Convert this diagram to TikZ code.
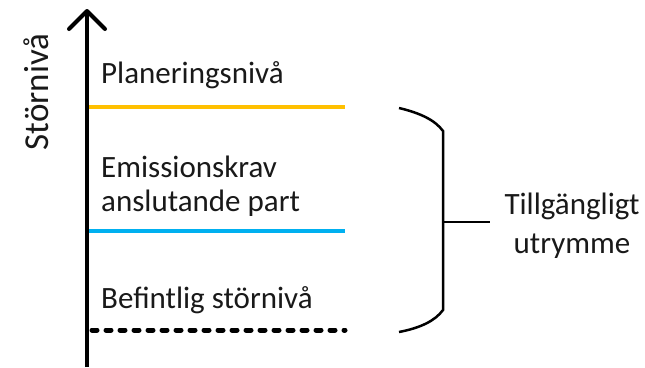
\documentclass[tikz,border=0pt]{standalone}
\usepackage{fontspec}
\setmainfont{Carlito}
\begin{document}
\begin{tikzpicture}[x=1pt,y=-1pt,
  lbl/.style={font=\fontsize{31}{39}\selectfont, text=black!90, inner sep=0pt},
  level/.style={line width=4pt}]
\useasboundingbox (0,0) rectangle (645,367);
% vertical axis with open arrow head
\coordinate (axb) at (87,367);
\coordinate (axt) at (87,11);
\draw[line width=4.5pt] (axb) -- (axt);
\draw[line width=4pt, line cap=round, line join=round] (69,29) -- (axt) -- (105,29);
\node[lbl, font=\fontsize{35}{40}\selectfont, rotate=90, anchor=base] (ylab) at (48,92) {Störnivå};
% levels
\coordinate (o1) at (89,107); \coordinate (o2) at (345,107);
\coordinate (b1) at (89,231); \coordinate (b2) at (345,231);
\coordinate (d1) at (92,330); \coordinate (d2) at (345,330);
\draw[level, color={rgb,255:red,255;green,192;blue,0}] (o1) -- (o2);
\draw[level, color={rgb,255:red,0;green,176;blue,240}] (b1) -- (b2);
\draw[line width=5pt, line cap=round, dash pattern=on 5pt off 9pt] (d1) -- (d2);
\node[lbl, anchor=base west] (plan) at (101,83) {Planeringsnivå};
\node[lbl, anchor=base west] (emis) at (101,177) {Emissionskrav};
\node[lbl, anchor=base west] (ansl) at (101,211) {anslutande part};
\node[lbl, anchor=base west] (bef) at (101,308) {Befintlig störnivå};
% brace
\coordinate (bt) at (399,108);
\coordinate (bb) at (399,332);
\coordinate (tk) at (490,222);
\draw[line width=2.5pt] (bt) .. controls (420,113) and (435,120) .. (443,131)
  -- (443,310) .. controls (435,321) and (420,328) .. (bb);
\draw[line width=2.5pt] (443,222) -- (tk);
\node[lbl, anchor=base] (avail1) at (572,214) {Tillgängligt};
\node[lbl, anchor=base] (avail2) at (572,253) {utrymme};
\end{tikzpicture}
\end{document}
